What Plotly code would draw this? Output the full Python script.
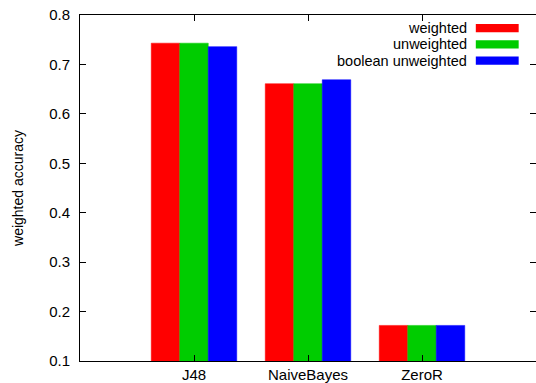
import plotly.graph_objects as go

categories = ["J48", "NaiveBayes", "ZeroR"]
series_names = ["weighted", "unweighted", "boolean unweighted"]
weighted = [0.743, 0.661, 0.172]
unweighted = [0.743, 0.661, 0.172]
boolean_unweighted = [0.736, 0.669, 0.172]
colors = ["#ff0000", "#00cc00", "#0000ff"]
y_ticks = [0.1, 0.2, 0.3, 0.4, 0.5, 0.6, 0.7, 0.8]

series_values = [weighted, unweighted, boolean_unweighted]
xpos = list(range(len(categories)))

FONT = "Liberation Sans, Arial, sans-serif"
fig = go.Figure()
for name, vals, col in zip(series_names, series_values, colors):
    fig.add_trace(go.Bar(x=xpos, y=vals, name=name,
                         marker=dict(color=col, line=dict(color=col, width=0.5)),
                         showlegend=False))

# manual gnuplot-style legend (text right, swatch on the right)
leg_y = [0.962, 0.915, 0.868]
for name, col, yy in zip(series_names, colors, leg_y):
    fig.add_annotation(x=0.851, y=yy, xref="paper", yref="paper", text=name,
                       showarrow=False, xanchor="right", yanchor="middle",
                       borderpad=0,
                       font=dict(family=FONT, size=14.5, color="black"))
    fig.add_shape(type="rect", xref="paper", yref="paper",
                  x0=0.868, x1=0.962, y0=yy - 0.012, y1=yy + 0.012,
                  fillcolor=col, line=dict(width=0))

fig.update_layout(
    width=536, height=383,
    margin=dict(l=80, r=0, t=15, b=22),
    plot_bgcolor="white", paper_bgcolor="white",
    barmode="group", bargap=0.25, bargroupgap=0,
    font=dict(family=FONT, size=15, color="black"),
    xaxis=dict(range=[-1, 3], tickvals=xpos, ticktext=categories,
               showline=True, linecolor="black", linewidth=1, mirror="ticks",
               ticks="inside", ticklen=6, tickcolor="black", showgrid=False,
               zeroline=False),
    yaxis=dict(range=[0.1, 0.8], tickvals=y_ticks,
               ticktext=[f"{v:.1f}" for v in y_ticks],
               showline=True, linecolor="black", linewidth=1, mirror="ticks",
               ticks="inside", ticklen=6, tickcolor="black", showgrid=False,
               zeroline=False, ticklabelstandoff=6,
               title=dict(text="weighted accuracy", standoff=22,
                          font=dict(size=14))),
)
fig.write_html("out.html", config={"displayModeBar": False},
               post_script="document.body.style.margin='0';"
                           "document.body.style.overflow='hidden';")
